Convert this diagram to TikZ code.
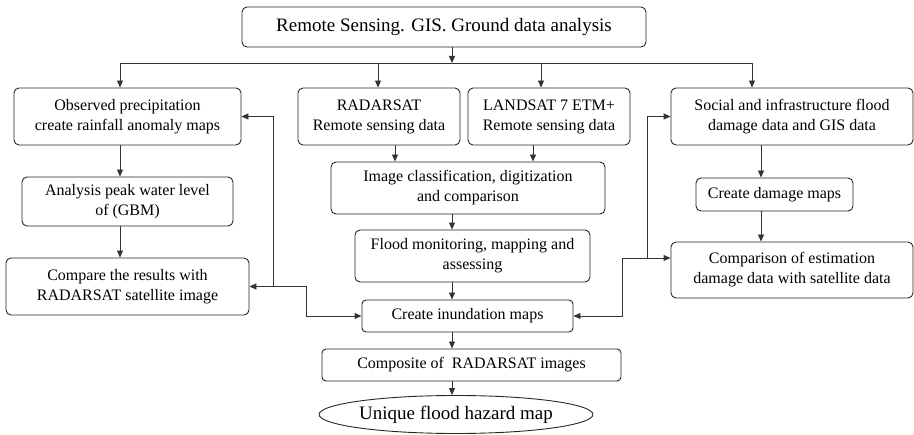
\documentclass[tikz,border=0pt]{standalone}
\usepackage{fontspec}
\setmainfont{Liberation Serif}
\newfontfamily\boxfont{Liberation Serif}
\usetikzlibrary{arrows.meta,shapes.geometric}
\begin{document}
\begin{tikzpicture}[x=1pt,y=-1pt,
  box/.style={draw=black!85,line width=0.9pt,rounded corners=5pt,inner sep=0pt,align=center,font=\boxfont\fontsize{16}{20}\selectfont},
  ln/.style={draw=black!80,line width=0.9pt},
  arr/.style={ln,-{Triangle[length=7pt,width=6pt]}}]
\useasboundingbox (0,0) rectangle (914,435);
% nodes
\node[box,minimum width=404pt,minimum height=40pt,font=\boxfont\fontsize{19}{23}\selectfont] (top) at (444,27) {Remote Sensing. GIS. Ground data analysis};
\node[box,minimum width=227pt,minimum height=57pt] (obs) at (127.5,116.5) {Observed precipitation\\create rainfall anomaly maps};
\node[box,minimum width=162pt,minimum height=57pt] (rad) at (379,116.5) {RADARSAT\\Remote sensing data};
\node[box,minimum width=162pt,minimum height=57pt] (lan) at (549,116.5) {LANDSAT 7 ETM+\\Remote sensing data};
\node[box,minimum width=242pt,minimum height=57pt] (soc) at (792,116.5) {Social and infrastructure flood\\damage data and GIS data};
\node[box,minimum width=211pt,minimum height=49pt] (ana) at (127.5,201.5) {Analysis peak water level\\of (GBM)};
\node[box,minimum width=243pt,minimum height=57pt] (cmp) at (127.5,286.5) {Compare the results with\\RADARSAT satellite image};
\node[box,minimum width=274pt,minimum height=52pt] (img) at (468,188) {Image classification, digitization\\and comparison};
\node[box,minimum width=235pt,minimum height=52pt] (fld) at (472.5,256) {Flood monitoring, mapping and\\assessing};
\node[box,minimum width=211pt,minimum height=32pt,rounded corners=4pt] (inu) at (467.5,316) {Create inundation maps};
\node[box,minimum width=299pt,minimum height=32pt,rounded corners=4pt] (com) at (471.5,365) {Composite of\ \ RADARSAT images};
\node[ellipse,draw=black!85,line width=0.9pt,inner sep=0pt,minimum width=252pt,minimum height=38pt,font=\boxfont\fontsize{19}{23}\selectfont] (uni) at (456,414.5) {Unique flood hazard map};
\node[box,minimum width=157pt,minimum height=33pt] (dmg) at (774.5,194.5) {Create damage maps};
\node[box,minimum width=242pt,minimum height=56pt] (cpe) at (792,270) {Comparison of estimation\\damage data with satellite data};
% bus
\coordinate (bus) at (452,63);
\coordinate (busL) at (120,63);
\coordinate (busR) at (752,63);
\draw[arr] (top.south -| bus) -- (bus);
\draw[ln] (busL) -- (busR);
\draw[arr] (busL) -- (busL |- obs.north);
\draw[arr] (bus -| 378,0) -- (rad.north -| 378,0);
\draw[arr] (bus -| 541,0) -- (lan.north -| 541,0);
\draw[arr] (busR) -- (busR |- soc.north);
% left column
\draw[arr] (obs.south -| busL) -- (ana.north -| busL);
\draw[arr] (ana.south -| busL) -- (cmp.north -| busL);
% centre column
\draw[arr] (rad.south -| 395,0) -- (img.north -| 395,0);
\draw[arr] (lan.south -| 533,0) -- (img.north -| 533,0);
\draw[arr] (img.south -| bus) -- (fld.north -| bus);
\draw[arr] (fld.south -| bus) -- (inu.north -| bus);
\draw[arr] (inu.south -| bus) -- (com.north -| bus);
\draw[arr] (com.south -| bus) -- (uni.north -| bus);
% right column
\draw[arr] (soc.south -| 761,0) -- (dmg.north -| 761,0);
\draw[arr] (dmg.south -| 761,0) -- (cpe.north -| 761,0);
% left feedback
\coordinate (fbL) at (273,286.5);
\draw[arr] (fbL) -- (273,116.5) -- (obs.east);
\draw[arr] (fbL) -- (cmp.east);
\draw[arr] (fbL) -- (306,286.5) -- (306,316) -- (inu.west);
% right feedback
\coordinate (fbR) at (647,258);
\draw[arr] (fbR) -- (647,116.5) -- (soc.west);
\draw[arr] (fbR) -- (cpe.west |- fbR);
\draw[arr] (fbR) -- (622,258) -- (622,316) -- (inu.east);
\end{tikzpicture}
\end{document}
